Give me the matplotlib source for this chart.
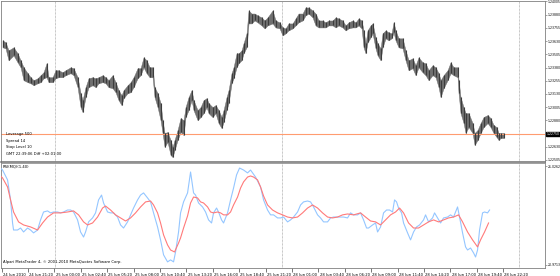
import matplotlib
matplotlib.use("Agg")
import matplotlib.pyplot as plt
import matplotlib.transforms as mtrans
from matplotlib.transforms import blended_transform_factory

# ---------------- data ----------------
bar_pos = [2, 5, 8, 13, 17, 20, 23, 27, 30, 33, 37, 40, 43, 46, 48, 52, 55, 58, 62, 65,
           70, 73, 77, 80, 82, 85, 88, 92, 95, 98, 102, 105, 108, 112, 115, 118, 121, 123, 127, 130,
           133, 137, 140, 143, 146, 149, 152, 154, 157, 160, 162, 164, 167, 170, 172, 174, 177, 180, 183, 185,
           188, 191, 193, 197, 200, 203, 206, 208, 212, 215, 218, 221, 223, 226, 228, 231, 233, 236, 238, 241,
           243, 246, 248, 251, 254, 257, 261, 264, 267, 272, 275, 279, 282, 285, 288, 292, 295, 298, 302, 305,
           308, 312, 315, 318, 322, 325, 328, 332, 335, 338, 342, 345, 348, 352, 355, 358, 361, 363, 365, 367,
           370, 372, 375, 377, 380, 382, 385, 388, 391, 393, 395, 398, 402, 405, 408, 412, 415, 418, 422, 425,
           428, 432, 435, 438, 440, 443, 447, 450, 453, 457, 458, 460, 463, 465, 468, 472, 474, 477, 480, 483,
           487, 490, 493, 496, 498, 500, 503]
bar_high = [1.23637, 1.23618, 1.23542, 1.23571, 1.23514, 1.23448, 1.23382, 1.23326, 1.23288, 1.23260,
            1.23278, 1.23307, 1.23335, 1.23420, 1.23288, 1.23288, 1.23354, 1.23354, 1.23335, 1.23354,
            1.23382, 1.23373, 1.23288, 1.23137, 1.23071, 1.23194, 1.23278, 1.23288, 1.23278, 1.23288,
            1.23307, 1.23288, 1.23260, 1.23307, 1.23241, 1.23165, 1.23118, 1.23165, 1.23212, 1.23241,
            1.23288, 1.23373, 1.23373, 1.23476, 1.23448, 1.23382, 1.23382, 1.23194, 1.23137, 1.23043,
            1.22882, 1.22760, 1.22769, 1.22694, 1.22628, 1.22694, 1.22788, 1.22901, 1.22882, 1.23005,
            1.23099, 1.23165, 1.23071, 1.22977, 1.23005, 1.23071, 1.23090, 1.23043, 1.23005, 1.23024,
            1.22977, 1.22911, 1.22977, 1.23099, 1.23165, 1.23326, 1.23382, 1.23514, 1.23514, 1.23542,
            1.23609, 1.23703, 1.23920, 1.23891, 1.23891, 1.23873, 1.23854, 1.23825, 1.23854, 1.23920,
            1.23825, 1.23807, 1.23759, 1.23750, 1.23797, 1.23797, 1.23844, 1.23891, 1.23891, 1.23948,
            1.23948, 1.23920, 1.23891, 1.23825, 1.23825, 1.23807, 1.23825, 1.23825, 1.23854, 1.23844,
            1.23825, 1.23778, 1.23807, 1.23825, 1.23807, 1.23844, 1.23825, 1.23731, 1.23609, 1.23731,
            1.23778, 1.23797, 1.23665, 1.23609, 1.23561, 1.23703, 1.23731, 1.23712, 1.23703, 1.23807,
            1.23731, 1.23656, 1.23656, 1.23542, 1.23448, 1.23467, 1.23401, 1.23476, 1.23429, 1.23420,
            1.23354, 1.23401, 1.23382, 1.23326, 1.23260, 1.23307, 1.23354, 1.23429, 1.23382, 1.23382,
            1.23260, 1.23099, 1.23005, 1.22948, 1.22948, 1.22854, 1.22760, 1.22788, 1.22854, 1.22911,
            1.22930, 1.22901, 1.22835, 1.22816, 1.22760, 1.22760, 1.22760]
bar_low = [1.23571, 1.23561, 1.23448, 1.23495, 1.23429, 1.23382, 1.23260, 1.23241, 1.23231, 1.23212,
           1.23231, 1.23241, 1.23278, 1.23288, 1.23241, 1.23241, 1.23278, 1.23288, 1.23288, 1.23307,
           1.23326, 1.23307, 1.23194, 1.23005, 1.22958, 1.23099, 1.23194, 1.23212, 1.23194, 1.23231,
           1.23241, 1.23231, 1.23194, 1.23184, 1.23146, 1.23071, 1.23024, 1.23090, 1.23137, 1.23146,
           1.23194, 1.23278, 1.23307, 1.23382, 1.23326, 1.23288, 1.23288, 1.23099, 1.23005, 1.22882,
           1.22760, 1.22628, 1.22675, 1.22552, 1.22533, 1.22599, 1.22694, 1.22769, 1.22741, 1.22911,
           1.22977, 1.23071, 1.22977, 1.22882, 1.22911, 1.22948, 1.23005, 1.22948, 1.22911, 1.22948,
           1.22854, 1.22807, 1.22864, 1.22977, 1.23043, 1.23231, 1.23278, 1.23382, 1.23420, 1.23448,
           1.23514, 1.23571, 1.23797, 1.23797, 1.23825, 1.23807, 1.23778, 1.23750, 1.23778, 1.23797,
           1.23759, 1.23750, 1.23684, 1.23703, 1.23731, 1.23750, 1.23778, 1.23807, 1.23825, 1.23873,
           1.23891, 1.23854, 1.23778, 1.23759, 1.23759, 1.23759, 1.23778, 1.23778, 1.23759, 1.23778,
           1.23759, 1.23731, 1.23750, 1.23759, 1.23759, 1.23778, 1.23750, 1.23571, 1.23514, 1.23618,
           1.23665, 1.23703, 1.23561, 1.23495, 1.23448, 1.23571, 1.23656, 1.23637, 1.23656, 1.23712,
           1.23637, 1.23571, 1.23561, 1.23448, 1.23354, 1.23373, 1.23307, 1.23382, 1.23335, 1.23307,
           1.23260, 1.23307, 1.23288, 1.23194, 1.23099, 1.23184, 1.23260, 1.23326, 1.23307, 1.23288,
           1.23137, 1.22948, 1.22854, 1.22760, 1.22816, 1.22760, 1.22647, 1.22694, 1.22760, 1.22816,
           1.22854, 1.22816, 1.22760, 1.22722, 1.22694, 1.22713, 1.22713]
bid_price = 1.22750

price_ticks = [1.24005, 1.23880, 1.23755, 1.23630, 1.23505, 1.23380, 1.23255,
               1.23130, 1.23005, 1.22880, 1.22630, 1.22505]

fast_pos = [0, 2, 7, 10, 12, 13, 17, 20, 23, 27, 30, 33, 37, 40, 43, 47, 50, 53, 57, 60,
            63, 67, 70, 73, 77, 80, 83, 85, 88, 92, 95, 98, 101, 103, 107, 110, 113, 117, 120, 123,
            127, 130, 133, 137, 140, 143, 147, 150, 153, 157, 160, 163, 167, 170, 173, 175, 178, 180, 183, 187,
            190, 193, 195, 198, 202, 205, 208, 211, 213, 216, 218, 221, 223, 227, 230, 233, 236, 239, 243, 247,
            250, 255, 260, 263, 267, 270, 273, 277, 280, 283, 287, 290, 293, 297, 300, 303, 307, 310, 313, 317,
            320, 323, 327, 330, 333, 337, 340, 343, 347, 350, 353, 357, 360, 363, 366, 368, 372, 375, 377, 380,
            383, 386, 389, 392, 394, 396, 398, 401, 403, 407, 410, 413, 416, 419, 423, 425, 428, 432, 434, 437,
            440, 443, 447, 450, 453, 457, 459, 462, 465, 467, 470, 473, 475, 477, 479, 482, 484, 487, 489]
fast_val = [21.0251, 21.0240, 21.0185, 21.0074, 20.9946, 20.9907, 20.9907, 20.9918, 20.9896, 20.9918,
            20.9907, 20.9891, 20.9907, 20.9963, 21.0007, 21.0013, 21.0002, 21.0007, 21.0007, 21.0002,
            21.0007, 21.0018, 21.0018, 21.0007, 20.9963, 20.9896, 20.9868, 20.9896, 20.9952, 20.9974,
            21.0002, 21.0074, 21.0101, 21.0057, 21.0007, 21.0002, 21.0002, 20.9979, 20.9935, 20.9918,
            20.9952, 20.9991, 21.0029, 21.0074, 21.0101, 21.0113, 21.0085, 21.0063, 21.0002, 20.9924,
            20.9852, 20.9769, 20.9730, 20.9741, 20.9730, 20.9785, 20.9896, 21.0002, 21.0063, 21.0113,
            21.0229, 21.0113, 21.0101, 21.0057, 21.0035, 21.0007, 20.9963, 20.9946, 21.0002, 21.0029,
            21.0007, 20.9963, 20.9946, 21.0002, 21.0074, 21.0140, 21.0213, 21.0251, 21.0240, 21.0224,
            21.0240, 21.0201, 21.0146, 21.0074, 21.0018, 20.9991, 20.9991, 20.9974, 20.9974, 20.9979,
            20.9952, 20.9963, 20.9979, 21.0007, 21.0046, 21.0063, 21.0068, 21.0063, 21.0035, 20.9991,
            20.9974, 20.9952, 20.9952, 20.9974, 20.9979, 20.9979, 20.9979, 20.9979, 20.9974, 21.0002,
            20.9991, 20.9991, 21.0002, 20.9963, 20.9918, 20.9918, 20.9935, 20.9946, 20.9896, 20.9924,
            21.0002, 21.0018, 21.0018, 21.0007, 21.0074, 21.0063, 21.0029, 21.0002, 20.9946, 20.9891,
            20.9852, 20.9896, 20.9924, 20.9935, 20.9963, 20.9991, 20.9952, 20.9974, 21.0002, 20.9974,
            20.9946, 20.9974, 20.9979, 20.9991, 20.9979, 21.0035, 20.9979, 20.9891, 20.9813, 20.9796,
            20.9807, 20.9780, 20.9757, 20.9796, 20.9907, 21.0002, 21.0007, 21.0002, 21.0018]

slow_pos = [0, 2, 7, 10, 13, 18, 23, 30, 37, 42, 47, 53, 60, 67, 73, 78, 83, 87, 92, 97,
            102, 105, 110, 115, 120, 125, 130, 135, 140, 145, 150, 153, 157, 160, 163, 167, 170, 174, 178, 180,
            183, 187, 190, 193, 197, 200, 203, 207, 210, 213, 217, 220, 223, 227, 230, 233, 237, 240, 243, 247,
            250, 253, 257, 260, 263, 267, 272, 277, 282, 287, 292, 297, 302, 307, 312, 317, 322, 327, 332, 337,
            342, 347, 353, 360, 365, 370, 375, 380, 385, 390, 395, 399, 403, 408, 413, 418, 423, 428, 433, 438,
            443, 448, 453, 458, 462, 467, 472, 477, 480, 484, 488]
slow_val = [21.0207, 21.0196, 21.0146, 21.0074, 21.0007, 20.9952, 20.9935, 20.9924, 20.9907, 20.9946,
            20.9979, 21.0002, 21.0002, 21.0007, 21.0013, 20.9991, 20.9952, 20.9935, 20.9946, 20.9979,
            21.0029, 21.0040, 21.0018, 20.9991, 20.9974, 20.9957, 20.9974, 21.0002, 21.0035, 21.0063,
            21.0068, 21.0046, 21.0002, 20.9946, 20.9880, 20.9824, 20.9796, 20.9785, 20.9835, 20.9863,
            20.9918, 20.9985, 21.0057, 21.0090, 21.0085, 21.0063, 21.0057, 21.0035, 21.0007, 21.0002,
            21.0007, 21.0002, 20.9991, 20.9991, 21.0007, 21.0046, 21.0090, 21.0140, 21.0174, 21.0201,
            21.0207, 21.0201, 21.0185, 21.0146, 21.0096, 21.0046, 21.0018, 21.0002, 20.9991, 20.9979,
            20.9974, 20.9979, 21.0002, 21.0029, 21.0046, 21.0029, 21.0002, 20.9979, 20.9974, 20.9979,
            20.9991, 20.9996, 20.9991, 21.0002, 20.9979, 20.9957, 20.9952, 20.9935, 20.9963, 20.9991,
            21.0007, 21.0029, 21.0002, 20.9946, 20.9918, 20.9918, 20.9935, 20.9952, 20.9963, 20.9952,
            20.9963, 20.9974, 20.9979, 20.9991, 20.9952, 20.9896, 20.9852, 20.9813, 20.9852, 20.9896,
            20.9946]

ind_ticks = [21.0262, 20.9713]

time_labels = ["24 Jun 2010", "24 Jun 21:20", "25 Jun 00:00", "25 Jun 02:40", "25 Jun 05:20",
               "25 Jun 08:00", "25 Jun 10:40", "25 Jun 13:20", "25 Jun 16:00", "25 Jun 18:40",
               "25 Jun 21:20", "28 Jun 01:00", "28 Jun 03:40", "28 Jun 06:20", "28 Jun 09:00",
               "28 Jun 11:40", "28 Jun 14:20", "28 Jun 17:00", "28 Jun 19:40", "28 Jun 22:20"]
day_breaks = [54, 281, 518]

info_lines = ["Leverage 500", "Spread 14", "Stop Level 10", "GMT 22:39:06 Diff +02:01:00"]
ind_name = "RSI(MQ)(1.40)"
copyright_text = "Alpari MetaTrader 4, \u00a9 2001-2010 MetaQuotes Software Corp."

# ---------------- figure ----------------
W, H = 560, 276
fig = plt.figure(figsize=(W / 100, H / 100), dpi=100)
fig.patch.set_facecolor("white")

ax = fig.add_axes([0.001, (H - 162) / H, 544 / W, 161.5 / H])
ax2 = fig.add_axes([0.001, 8 / H, 544 / W, 105 / H])

FS = 2.7
RFS = 2.25
grey = "#808080"

for a in (ax, ax2):
    a.set_xlim(0, 544)
    a.set_facecolor("white")
    for s in a.spines.values():
        s.set_color(grey)
        s.set_linewidth(0.6)
    a.yaxis.tick_right()
    a.tick_params(axis="y", direction="out", length=1.5, width=0.5, color=grey,
                  labelsize=RFS, pad=0.6, labelcolor="black")
    for xb in day_breaks:
        a.axvline(xb, color="#909090", lw=0.5, ls=(0, (1, 1)), zorder=1)

ax.spines["bottom"].set_color("#707070")
ax.spines["bottom"].set_linewidth(1.1)
ax2.spines["top"].set_color("#909090")
ax2.spines["top"].set_linewidth(0.6)

# main price panel
ax.set_ylim(1.22486, 1.24014)
ax.fill_between(bar_pos, bar_low, bar_high, color="#707070", lw=0.3, edgecolor="#707070", zorder=2)
ax.vlines(bar_pos, bar_low, bar_high, color="#3c3c3c", lw=0.8, zorder=3)
ax.axhline(bid_price, color="#ff9c70", lw=0.8, zorder=2)
ax.set_yticks(price_ticks, [f"{v:.5f}" for v in price_ticks])
ax.set_xticks([])

tr = blended_transform_factory(ax.transAxes, ax.transData)
ax.text(1.003, bid_price, f"{bid_price:.5f}", transform=tr, fontsize=RFS, color="white",
        va="center", ha="left", clip_on=False,
        bbox=dict(boxstyle="square,pad=0.1", fc="black", ec="black"))

for i, line in enumerate(info_lines):
    ax.text(5, bid_price - i * 0.00062, line, fontsize=FS, color="black", va="center", ha="left")

# indicator panel
ax2.set_ylim(20.9696, 21.0279)
ax2.plot(fast_pos, fast_val, color="#94c6ff", lw=0.8, zorder=3)
ax2.plot(slow_pos, slow_val, color="#ff7a7a", lw=0.8, zorder=4)
ax2.set_yticks(ind_ticks, [f"{v:.4f}" for v in ind_ticks])
ax2.text(2, 21.0262, ind_name, fontsize=FS, color="black", va="center", ha="left")
ax2.text(2, 20.9730, copyright_text, fontsize=FS, color="black", va="center", ha="left")

tick_x = [1 + 26.4 * i for i in range(len(time_labels))]
ax2.set_xticks(tick_x, time_labels, ha="left", fontsize=FS)
ax2.tick_params(axis="x", direction="out", length=3, width=0.5, color="#404040", pad=0.5)
offset = mtrans.ScaledTranslation(1.2 / 100, 0, fig.dpi_scale_trans)
for lab in ax2.get_xticklabels():
    lab.set_transform(lab.get_transform() + offset)

fig.savefig("out.png", dpi=100, facecolor="white")
